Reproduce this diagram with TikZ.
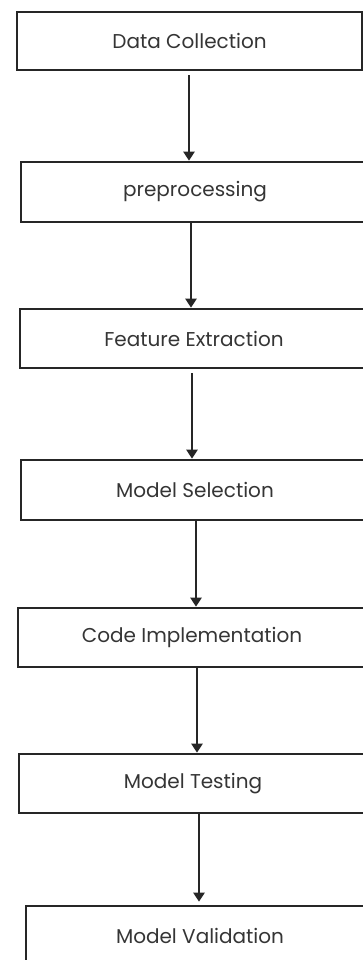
\documentclass[tikz,border=0pt]{standalone}
\usepackage{fontspec}
\setmainfont{Poppins}
\usetikzlibrary{arrows.meta}
\definecolor{edge}{HTML}{262626}
\definecolor{label}{HTML}{353535}
\tikzset{
  stepbox/.style={draw=edge, line width=2.6pt, fill=white, rectangle,
    minimum width=348pt, minimum height=59pt, inner sep=0pt,
    font=\fontsize{20}{22}\selectfont, text=label},
  flow/.style={draw=edge, line width=2.6pt,
    -{Triangle[length=9pt,width=11pt]}}
}
\begin{document}
\begin{tikzpicture}[x=1pt,y=-1pt]
  \useasboundingbox (0,0) rectangle (363,960);
  \fill[white] (0,0) rectangle (363,960);
  \node[stepbox, minimum width=345pt, minimum height=58pt] (s1) at (189.5,41) {Data Collection};
  \node[stepbox, minimum height=60pt] (s2) at (195,192) {preprocessing};
  \node[stepbox] (s3) at (194,338.5) {Feature Extraction};
  \node[stepbox, minimum height=60pt] (s4) at (195,490) {Model Selection};
  \node[stepbox] (s5) at (192,637.5) {Code Implementation};
  \node[stepbox] (s6) at (193,783.5) {Model Testing};
  \node[stepbox, minimum height=60pt] (s7) at (200,936) {Model Validation};
  \draw[flow] ([xshift=-0.5pt,yshift=-4pt]s1.south) -- ([xshift=-6pt]s2.north);
  \draw[flow] ([xshift=-4pt]s2.south) -- ([xshift=-3pt]s3.north);
  \draw[flow] ([xshift=-2pt,yshift=-4pt]s3.south) -- ([xshift=-3pt]s4.north);
  \draw[flow] ([xshift=1pt]s4.south) -- ([xshift=4pt]s5.north);
  \draw[flow] ([xshift=5pt]s5.south) -- ([xshift=4pt]s6.north);
  \draw[flow] ([xshift=6pt]s6.south) -- ([xshift=-1pt,yshift=3pt]s7.north);
\end{tikzpicture}
\end{document}
